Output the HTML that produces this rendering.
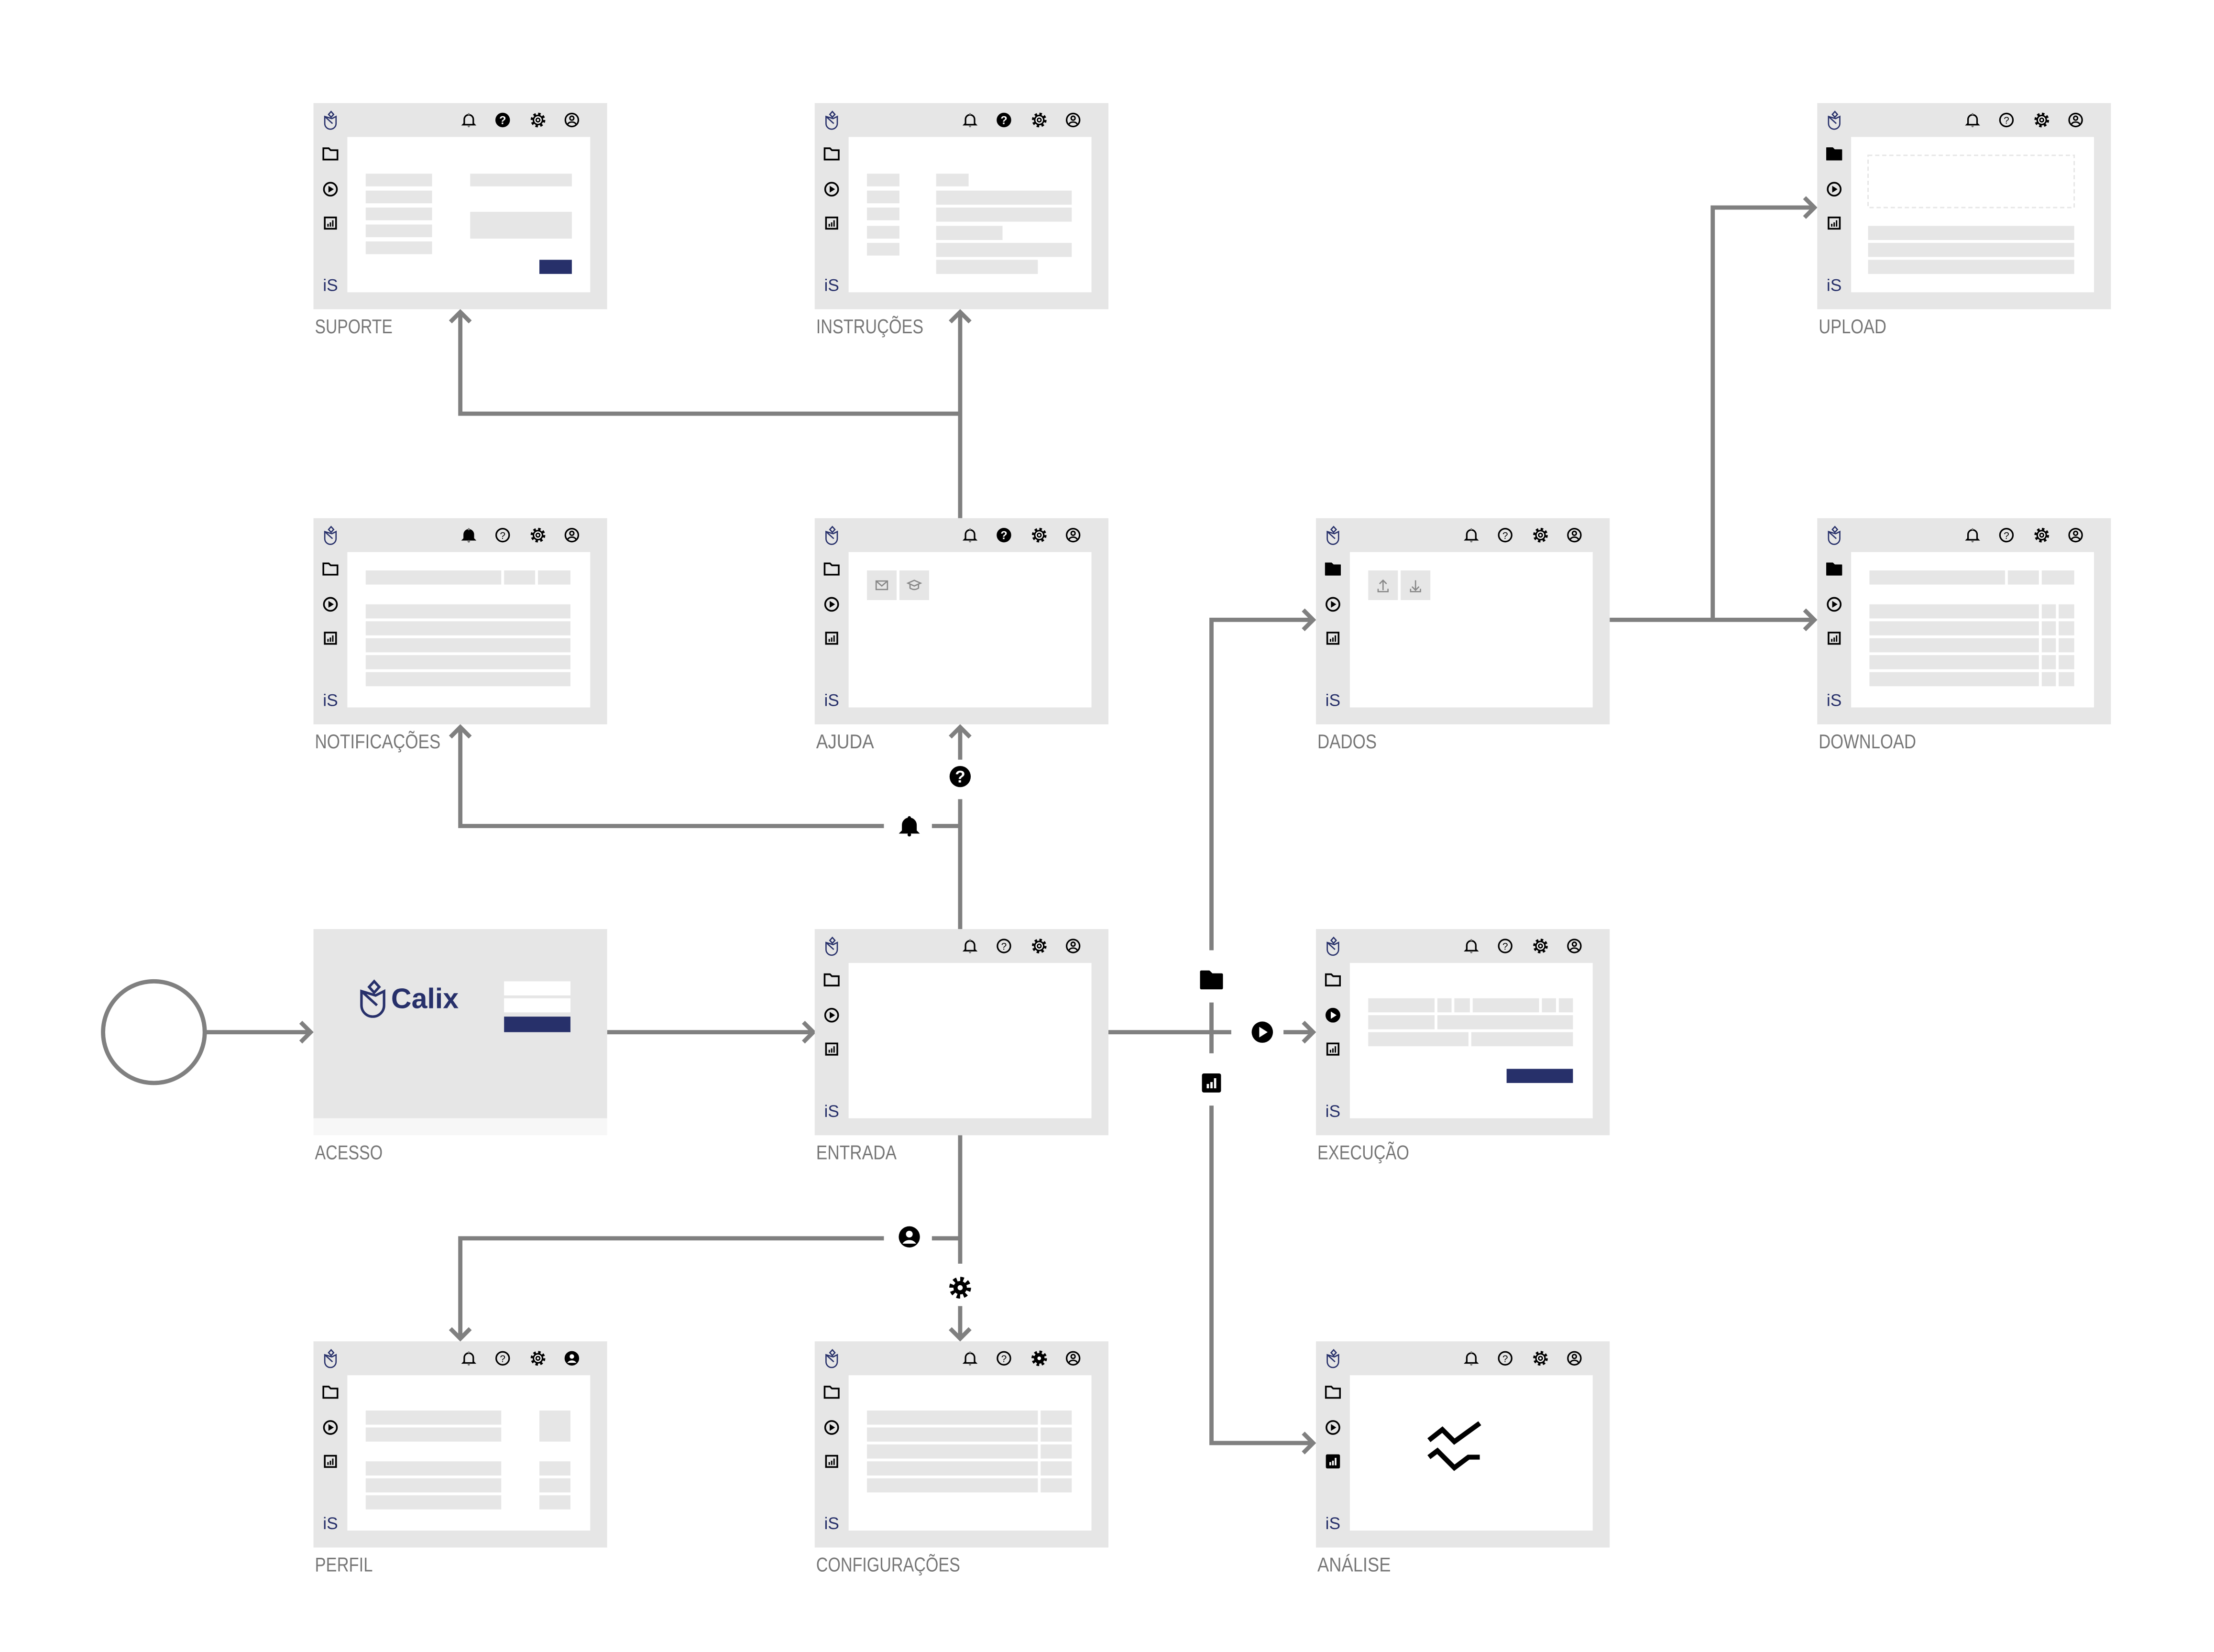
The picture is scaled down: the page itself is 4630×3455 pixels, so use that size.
<!DOCTYPE html>
<html><head><meta charset="utf-8"><style>
html,body{margin:0;padding:0;background:#fff;}
svg{display:block;}
</style></head><body>
<svg width="4630" height="3455" viewBox="0 0 1568 1170" preserveAspectRatio="none" xmlns="http://www.w3.org/2000/svg" font-family="Liberation Sans, sans-serif">
<defs>
 <g id="logo" fill="none" stroke="#27306a" stroke-width="0.9">
  <path d="M-4,-2.5 V2.5 A4,4 0 0 0 4,2.5 V-2.5 L1,-1 Z"/>
  <path d="M-4,-2.5 L1.5,2.5"/>
  <path d="M0.5,-6 L2.3,-4 L0.5,-2 L-1.3,-4 Z"/>
 </g>
 <g id="folder"><path d="M-5,-4 h3.8 l1.4,1.4 h4.8 v6.6 h-10 z" fill="none" stroke="#000" stroke-width="1.2"/></g>
 <g id="folderF"><path d="M-5,-4 h3.8 l1.4,1.4 h4.8 v6.6 h-10 z" fill="#000" stroke="#000" stroke-width="1.2" stroke-linejoin="round"/></g>
 <g id="play"><circle r="4.6" fill="none" stroke="#000" stroke-width="1.2"/><path d="M-1.4,-2.4 L2.4,0 L-1.4,2.4 Z" fill="#000"/></g>
 <g id="playF"><circle r="5.2" fill="#000"/><path d="M-1.5,-2.6 L2.6,0 L-1.5,2.6 Z" fill="#fff"/></g>
 <g id="chart"><rect x="-4" y="-4" width="8" height="8" fill="none" stroke="#000" stroke-width="1.2"/><rect x="-2.2" y="0.5" width="1" height="2" fill="#000"/><rect x="-0.5" y="-0.5" width="1" height="3" fill="#000"/><rect x="1.2" y="-2" width="1" height="4.5" fill="#000"/></g>
 <g id="chartF"><rect x="-5" y="-5" width="10" height="10" rx="1" fill="#000"/><rect x="-2.5" y="0.5" width="1.2" height="2.3" fill="#fff"/><rect x="-0.6" y="-0.5" width="1.2" height="3.3" fill="#fff"/><rect x="1.3" y="-2.5" width="1.2" height="5.3" fill="#fff"/></g>
 <g id="bell"><path d="M-3.2,2.5 V-0.5 A3.2,3.2 0 0 1 3.2,-0.5 V2.5 L4,3.3 H-4 Z" fill="none" stroke="#000" stroke-width="1.1"/><circle cy="-4.2" r="0.7"/><circle cy="4.4" r="0.8"/></g>
 <g id="bellF"><path d="M-3.2,2.5 V-0.5 A3.2,3.2 0 0 1 3.2,-0.5 V2.5 L4,3.3 H-4 Z" fill="#000" stroke="#000" stroke-width="1.1"/><circle cy="-4.2" r="0.8"/><circle cy="4.4" r="0.9"/></g>
 <g id="help"><circle r="4.6" fill="none" stroke="#000" stroke-width="1.1"/><text y="2.6" font-size="7" text-anchor="middle" fill="#000">?</text></g>
 <g id="helpF"><circle r="5" fill="#000"/><text y="2.8" font-size="8" font-weight="bold" text-anchor="middle" fill="#fff">?</text></g>
 <g id="gear"><circle r="4" fill="none" stroke="#000" stroke-width="2.4" stroke-dasharray="1.6 1.54"/><circle r="3.2" fill="#fff" stroke="#000" stroke-width="1.1"/><circle r="1.3" fill="none" stroke="#000" stroke-width="1"/></g>
 <g id="gearF"><circle r="4.2" fill="none" stroke="#000" stroke-width="2.6" stroke-dasharray="1.65 1.65"/><circle r="3.4" fill="#000"/><circle r="1.3" fill="#fff"/></g>
 <g id="user"><circle r="4.6" fill="none" stroke="#000" stroke-width="1.1"/><circle cy="-1.3" r="1.4" fill="none" stroke="#000" stroke-width="1"/><path d="M-3,3 A3.4,3 0 0 1 3,3" fill="none" stroke="#000" stroke-width="1"/></g>
 <g id="userF"><circle r="5" fill="#000"/><circle cy="-1.3" r="1.6" fill="#fff"/><path d="M-3.2,3.2 A3.6,3.2 0 0 1 3.2,3.2 Z" fill="#fff"/></g>
 <g id="fb">
  <rect width="208" height="146" fill="#e6e6e6"/>
  <rect x="24" y="24" width="172" height="110" fill="#fff"/>
  <use href="#logo" x="12" y="12"/>
  <use href="#folder" x="12" y="36"/>
  <use href="#play" x="12" y="61"/>
  <use href="#chart" x="12" y="85"/>
  <text x="12" y="133" font-size="12" fill="#27306a" text-anchor="middle">iS</text>
  <use href="#bell" x="110" y="12"/>
  <use href="#help" x="134" y="12"/>
  <use href="#gear" x="159" y="12"/>
  <use href="#user" x="183" y="12"/>
 </g>
</defs>

<!-- connectors -->
<g fill="none" stroke="#808080" stroke-width="3">
 <circle cx="109" cy="731" r="36"/>
 <path d="M145 731 H219"/><polyline points="213,724 220,731 213,738"/>
 <path d="M430 731 H575"/><polyline points="569,724 576,731 569,738"/>
 <path d="M680 658 V566"/><path d="M660 585 H680"/>
 <path d="M680 538 V517"/><polyline points="673,522 680,515 687,522"/>
 <path d="M626 585 H326 V517"/><polyline points="319,522 326,515 333,522"/>
 <path d="M680 367 V223"/><polyline points="673,228 680,221 687,228"/>
 <path d="M680 293 H326 V223"/><polyline points="319,228 326,221 333,228"/>
 <path d="M680 804 V895"/><path d="M660 877 H680"/>
 <path d="M680 925 V946"/><polyline points="673,941 680,948 687,941"/>
 <path d="M626 877 H326 V946"/><polyline points="319,941 326,948 333,941"/>
 <path d="M785 731 H872"/>
 <path d="M909 731 H928"/><polyline points="923,724 930,731 923,738"/>
 <path d="M858 673 V439 H928"/><polyline points="923,432 930,439 923,446"/>
 <path d="M858 710 V746"/>
 <path d="M858 783 V1022 H928"/><polyline points="923,1015 930,1022 923,1029"/>
 <path d="M1140 439 H1283"/><polyline points="1278,432 1285,439 1278,446"/>
 <path d="M1213 439 V147 H1283"/><polyline points="1278,140 1285,147 1278,154"/>
</g>
<!-- connector icons -->
<g transform="translate(680 550) scale(1.5)"><use href="#helpF"/></g>
<g transform="translate(644 585) scale(1.4)"><use href="#bellF"/></g>
<g transform="translate(644 876) scale(1.5)"><use href="#userF"/></g>
<g transform="translate(680 912) scale(1.4)"><use href="#gearF"/></g>
<g transform="translate(858 694) scale(1.45)"><use href="#folderF"/></g>
<g transform="translate(894 731) scale(1.45)"><use href="#playF"/></g>
<g transform="translate(858 767) scale(1.35)"><use href="#chartF"/></g>

<g font-size="14" fill="#777">
<g transform="translate(222 73)">
 <use href="#fb"/><use href="#helpF" x="134" y="12"/>
 <g fill="#e6e6e6">
  <rect x="37" y="50" width="47" height="9"/><rect x="37" y="62" width="47" height="9"/><rect x="37" y="74" width="47" height="9"/><rect x="37" y="86" width="47" height="9"/><rect x="37" y="98" width="47" height="9"/>
  <rect x="111" y="50" width="72" height="9"/><rect x="111" y="77" width="72" height="19"/>
 </g>
 <rect x="160" y="111" width="23" height="10" fill="#27306a"/>
 <text x="1" y="163" textLength="55" lengthAdjust="spacingAndGlyphs">SUPORTE</text>
</g>
<g transform="translate(577 73)">
 <use href="#fb"/><use href="#helpF" x="134" y="12"/>
 <g fill="#e6e6e6">
  <rect x="37" y="50" width="23" height="9"/><rect x="37" y="62" width="23" height="9"/><rect x="37" y="74" width="23" height="9"/><rect x="37" y="87" width="23" height="9"/><rect x="37" y="99" width="23" height="9"/>
  <rect x="86" y="50" width="23" height="9"/><rect x="86" y="62" width="96" height="10"/><rect x="86" y="74" width="96" height="10"/><rect x="86" y="87" width="47" height="10"/><rect x="86" y="99" width="96" height="10"/><rect x="86" y="111" width="72" height="10"/>
 </g>
 <text x="1" y="163" textLength="76" lengthAdjust="spacingAndGlyphs">INSTRUÇÕES</text>
</g>
<g transform="translate(1287 73)">
 <use href="#fb"/><use href="#folderF" x="12" y="36"/>
 <rect x="36" y="37" width="146" height="37" fill="none" stroke="#e6e6e6" stroke-width="1" stroke-dasharray="3 2"/>
 <g fill="#e6e6e6"><rect x="36" y="87" width="146" height="10"/><rect x="36" y="99" width="146" height="10"/><rect x="36" y="111" width="146" height="10"/></g>
 <text x="1" y="163" textLength="48" lengthAdjust="spacingAndGlyphs">UPLOAD</text>
</g>
<g transform="translate(222 367)">
 <use href="#fb"/><use href="#bellF" x="110" y="12"/>
 <g fill="#e6e6e6">
  <rect x="37" y="37" width="96" height="10"/><rect x="135" y="37" width="22" height="10"/><rect x="159" y="37" width="23" height="10"/>
  <rect x="37" y="61" width="145" height="10"/><rect x="37" y="73" width="145" height="10"/><rect x="37" y="85" width="145" height="10"/><rect x="37" y="97" width="145" height="10"/><rect x="37" y="109" width="145" height="10"/>
 </g>
 <text x="1" y="163" textLength="89" lengthAdjust="spacingAndGlyphs">NOTIFICAÇÕES</text>
</g>
<g transform="translate(577 367)">
 <use href="#fb"/><use href="#helpF" x="134" y="12"/>
 <rect x="37" y="37" width="21" height="21" fill="#e6e6e6"/><rect x="60" y="37" width="21" height="21" fill="#e6e6e6"/>
 <rect x="43.5" y="44.5" width="8" height="6" fill="none" stroke="#888" stroke-width="0.9"/><path d="M43.5 44.5 L47.5 48 L51.5 44.5" fill="none" stroke="#888" stroke-width="0.9"/>
 <path d="M66 46 L70.5 44 L75 46 L70.5 48 Z M67.5 47 V49.5 Q70.5 51.5 73.5 49.5 V47" fill="none" stroke="#888" stroke-width="0.9"/>
 <text x="1" y="163" textLength="41" lengthAdjust="spacingAndGlyphs">AJUDA</text>
</g>
<g transform="translate(932 367)">
 <use href="#fb"/><use href="#folderF" x="12" y="36"/>
 <rect x="37" y="37" width="21" height="21" fill="#e6e6e6"/><rect x="60" y="37" width="21" height="21" fill="#e6e6e6"/>
 <path d="M47.5 51 V44 M45 46.5 L47.5 44 L50 46.5 M44 50 V52 H51 V50" fill="none" stroke="#888" stroke-width="0.9"/>
 <path d="M70.5 44 V51 M68 48.5 L70.5 51 L73 48.5 M67 50 V52 H74 V50" fill="none" stroke="#888" stroke-width="0.9"/>
 <text x="1" y="163" textLength="42" lengthAdjust="spacingAndGlyphs">DADOS</text>
</g>
<g transform="translate(1287 367)">
 <use href="#fb"/><use href="#folderF" x="12" y="36"/>
 <g fill="#e6e6e6">
  <rect x="37" y="37" width="96" height="10"/><rect x="135" y="37" width="22" height="10"/><rect x="159" y="37" width="23" height="10"/>
  <rect x="37" y="61" width="120" height="10"/><rect x="159" y="61" width="10" height="10"/><rect x="171" y="61" width="11" height="10"/>
  <rect x="37" y="73" width="120" height="10"/><rect x="159" y="73" width="10" height="10"/><rect x="171" y="73" width="11" height="10"/>
  <rect x="37" y="85" width="120" height="10"/><rect x="159" y="85" width="10" height="10"/><rect x="171" y="85" width="11" height="10"/>
  <rect x="37" y="97" width="120" height="10"/><rect x="159" y="97" width="10" height="10"/><rect x="171" y="97" width="11" height="10"/>
  <rect x="37" y="109" width="120" height="10"/><rect x="159" y="109" width="10" height="10"/><rect x="171" y="109" width="11" height="10"/>
 </g>
 <text x="1" y="163" textLength="69" lengthAdjust="spacingAndGlyphs">DOWNLOAD</text>
</g>
<g transform="translate(222 658)">
 <rect width="208" height="134" fill="#e6e6e6"/><rect y="134" width="208" height="12" fill="#f7f7f7"/>
 <g transform="translate(42 49) scale(2)"><use href="#logo"/></g>
 <text x="55" y="56" font-size="20" font-weight="bold" fill="#27306a">Calix</text>
 <rect x="135" y="37" width="47" height="10" fill="#fff"/><rect x="135" y="49" width="47" height="10" fill="#fff"/><rect x="135" y="62" width="47" height="11" fill="#27306a"/>
 <text x="1" y="163" textLength="48" lengthAdjust="spacingAndGlyphs">ACESSO</text>
</g>
<g transform="translate(577 658)">
 <use href="#fb"/>
 <text x="1" y="163" textLength="57" lengthAdjust="spacingAndGlyphs">ENTRADA</text>
</g>
<g transform="translate(932 658)">
 <use href="#fb"/><use href="#playF" x="12" y="61"/>
 <g fill="#e6e6e6">
  <rect x="37" y="49" width="47" height="10"/><rect x="86" y="49" width="10" height="10"/><rect x="98" y="49" width="11" height="10"/><rect x="111" y="49" width="47" height="10"/><rect x="160" y="49" width="10" height="10"/><rect x="172" y="49" width="10" height="10"/>
  <rect x="37" y="61" width="47" height="10"/><rect x="86" y="61" width="96" height="10"/>
  <rect x="37" y="73" width="71" height="10"/><rect x="110" y="73" width="72" height="10"/>
 </g>
 <rect x="135" y="99" width="47" height="10" fill="#27306a"/>
 <text x="1" y="163" textLength="65" lengthAdjust="spacingAndGlyphs">EXECUÇÃO</text>
</g>
<g transform="translate(222 950)">
 <use href="#fb"/><use href="#userF" x="183" y="12"/>
 <g fill="#e6e6e6">
  <rect x="37" y="49" width="96" height="10"/><rect x="37" y="61" width="96" height="10"/><rect x="160" y="49" width="22" height="22"/>
  <rect x="37" y="85" width="96" height="10"/><rect x="37" y="97" width="96" height="10"/><rect x="37" y="109" width="96" height="10"/>
  <rect x="160" y="85" width="22" height="10"/><rect x="160" y="97" width="22" height="10"/><rect x="160" y="109" width="22" height="10"/>
 </g>
 <text x="1" y="163" textLength="41" lengthAdjust="spacingAndGlyphs">PERFIL</text>
</g>
<g transform="translate(577 950)">
 <use href="#fb"/><use href="#gearF" x="159" y="12"/>
 <g fill="#e6e6e6">
  <rect x="37" y="49" width="121" height="10"/><rect x="160" y="49" width="22" height="10"/>
  <rect x="37" y="61" width="121" height="10"/><rect x="160" y="61" width="22" height="10"/>
  <rect x="37" y="73" width="121" height="10"/><rect x="160" y="73" width="22" height="10"/>
  <rect x="37" y="85" width="121" height="10"/><rect x="160" y="85" width="22" height="10"/>
  <rect x="37" y="97" width="121" height="10"/><rect x="160" y="97" width="22" height="10"/>
 </g>
 <text x="1" y="163" textLength="102" lengthAdjust="spacingAndGlyphs">CONFIGURAÇÕES</text>
</g>
<g transform="translate(932 950)">
 <use href="#fb"/><use href="#chartF" x="12" y="85"/>
 <g fill="none" stroke="#000" stroke-width="3.5">
  <polyline points="80,70 89.5,62.5 98,71 116,58"/>
  <polyline points="80,82 86,77.5 98,89.5 108,82 116,82"/>
 </g>
 <text x="1" y="163" textLength="52" lengthAdjust="spacingAndGlyphs">ANÁLISE</text>
</g>
</g>
</svg>
</body></html>
